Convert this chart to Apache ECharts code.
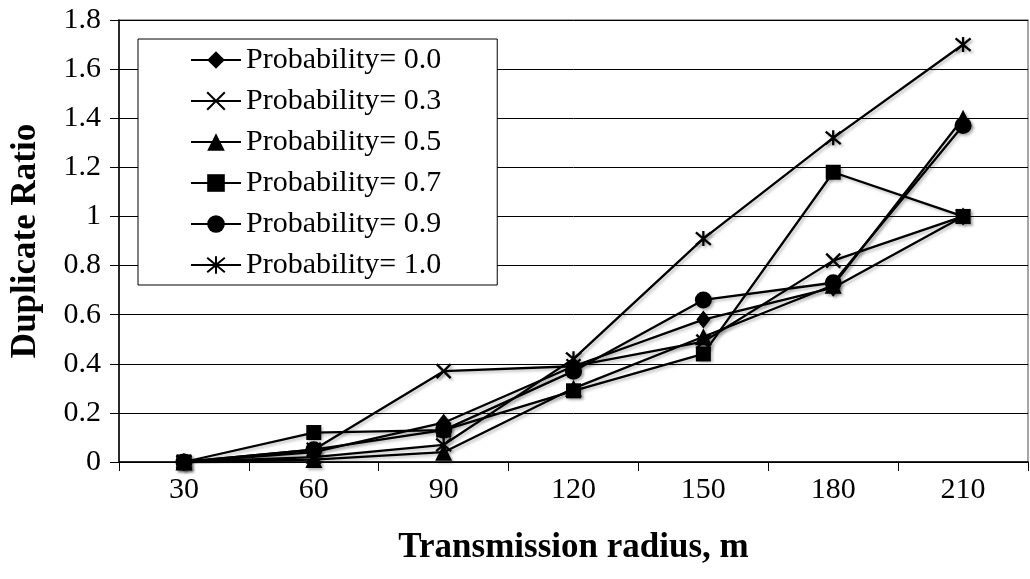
<!DOCTYPE html>
<html>
<head>
<meta charset="utf-8">
<script src="https://cdn.jsdelivr.net/npm/echarts@6/dist/echarts.min.js"></script>
<style>
html,body{margin:0;padding:0;background:#fff;}
#chart{width:1030px;height:579px;}
</style>
</head>
<body>
<div id="chart"></div>
<script>
const categories = ['30', '60', '90', '120', '150', '180', '210'];
const seriesNames = ['Probability= 0.0', 'Probability= 0.3', 'Probability= 0.5', 'Probability= 0.7', 'Probability= 0.9', 'Probability= 1.0'];
const p00 = [0, 0.04, 0.16, 0.39, 0.58, 0.71, 1.00];
const p03 = [0, 0.05, 0.37, 0.39, 0.49, 0.82, 1.00];
const p05 = [0, 0.01, 0.04, 0.30, 0.51, 0.72, 1.40];
const p07 = [0, 0.12, 0.13, 0.29, 0.44, 1.18, 1.00];
const p09 = [0, 0.05, 0.13, 0.37, 0.66, 0.73, 1.37];
const p10 = [0, 0.02, 0.07, 0.42, 0.91, 1.32, 1.70];
const xTitle = 'Transmission radius, m';
const yTitle = 'Duplicate Ratio';

const FONT = "'Liberation Serif', 'Times New Roman', serif";
const CROSS = 'path://M0,0L10,10M10,0L0,10';
const STAR = 'path://M0,0L10,10M10,0L0,10M5,-1L5,11';
const symbols = ['diamond', CROSS, 'triangle', 'rect', 'circle', STAR];
const sizes = [[14, 18], 14, 17, 15, 17, 15];
const dataList = [p00, p03, p05, p07, p09, p10];

const chart = echarts.init(document.getElementById('chart'), null, {renderer: 'canvas'});
const series = dataList.map((d, i) => ({
  name: seriesNames[i],
  type: 'line',
  data: d,
  symbol: symbols[i],
  symbolSize: sizes[i],
  showAllSymbol: true,
  z: 2 + i,
  lineStyle: {color: '#000', width: 2.3, shadowBlur: 3, shadowColor: 'rgba(0,0,0,0.25)', shadowOffsetX: 2, shadowOffsetY: 2},
  itemStyle: {color: '#000', borderColor: '#000', borderWidth: (i === 1 || i === 5) ? 2.3 : 0, shadowBlur: 3, shadowColor: 'rgba(0,0,0,0.3)', shadowOffsetX: 2, shadowOffsetY: 2},
  emphasis: {disabled: true},
  animation: false
}));

chart.setOption({
  backgroundColor: '#fff',
  animation: false,
  textStyle: {fontFamily: FONT, color: '#000'},
  grid: {left: 119, right: 2, top: 20, bottom: 117, show: true, borderColor: '#888', borderWidth: 1.5, containLabel: false},
  legend: {
    orient: 'vertical',
    left: 138,
    top: 39,
    data: seriesNames,
    itemWidth: 50,
    itemHeight: 22,
    itemGap: 11,
    padding: [6, 56, 5, 52],
    borderColor: '#000',
    borderWidth: 1,
    backgroundColor: '#fff',
    textStyle: {fontFamily: FONT, fontSize: 30, color: '#000', lineHeight: 30},
    selectedMode: false
  },
  xAxis: {
    type: 'category',
    data: categories,
    boundaryGap: true,
    name: xTitle,
    nameLocation: 'middle',
    nameGap: 68,
    nameTextStyle: {fontFamily: FONT, fontSize: 35, fontWeight: 'bold', color: '#000'},
    axisLine: {lineStyle: {color: '#000', width: 1.5}},
    axisTick: {show: true, length: 9, alignWithLabel: false, lineStyle: {color: '#000'}},
    axisLabel: {fontFamily: FONT, fontSize: 30, color: '#000', margin: 13}
  },
  yAxis: {
    type: 'value',
    min: 0,
    max: 1.8,
    interval: 0.2,
    name: yTitle,
    nameLocation: 'middle',
    nameGap: 76,
    nameRotate: 90,
    nameTextStyle: {fontFamily: FONT, fontSize: 35, fontWeight: 'bold', color: '#000'},
    axisLine: {show: true, lineStyle: {color: '#000', width: 1.5}},
    axisTick: {show: true, length: 9, lineStyle: {color: '#000'}},
    axisLabel: {fontFamily: FONT, fontSize: 30, color: '#000', margin: 18, formatter: v => String(+v.toFixed(1))},
    splitLine: {show: true, lineStyle: {color: '#000', width: 1}}
  },
  series: series
});
</script>
</body>
</html>
